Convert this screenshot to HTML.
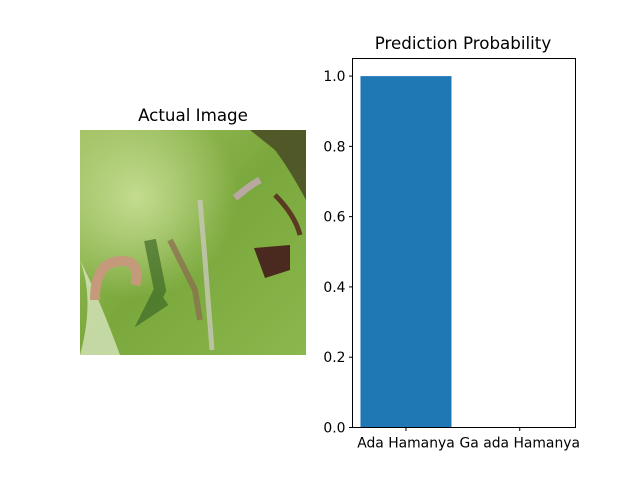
<!DOCTYPE html>
<html><head><style>
body{margin:0;background:#fff;}
svg text{font-family:"DejaVu Sans","Liberation Sans",sans-serif;}
</style></head><body>
<svg width="640" height="480" viewBox="0 0 640 480" xmlns="http://www.w3.org/2000/svg">
<defs>
<linearGradient id="lg" x1="0" y1="0" x2="1" y2="1">
<stop offset="0" stop-color="#a0c060"/><stop offset="0.5" stop-color="#7aa83c"/><stop offset="1" stop-color="#8ab84e"/>
</linearGradient>
<radialGradient id="rg" cx="0.25" cy="0.3" r="0.45"><stop offset="0" stop-color="#c4dc90"/><stop offset="1" stop-color="#c4dc90" stop-opacity="0"/></radialGradient>
</defs>
<text x="193" y="121" font-size="16.7" text-anchor="middle">Actual Image</text>
<g>
<rect x="80" y="130" width="226" height="225" fill="url(#lg)"/>
<rect x="80" y="130" width="226" height="225" fill="url(#rg)"/>
<path d="M80,260 Q95,300 80,355 L120,355 Q100,300 80,260Z" fill="#e4ecd0" opacity="0.7"/>
<path d="M250,130 L306,130 L306,200 Q290,170 275,150 Z" fill="#4a4a25" opacity="0.85"/>
<path d="M254,248 L290,245 L290,270 L265,278 Z" fill="#4a2a1e"/>
<path d="M275,195 Q295,215 300,235" stroke="#5a3a20" stroke-width="5" fill="none"/>
<path d="M95,300 Q95,255 130,262 Q140,270 135,285" stroke="#c49a7a" stroke-width="10" fill="none"/>
<path d="M235,198 Q250,185 260,180" stroke="#b8a8a0" stroke-width="7" fill="none"/>
<path d="M150,240 L160,290 L150,310 L165,300" stroke="#3f6a28" stroke-width="12" fill="none" opacity="0.7"/>
<path d="M200,200 L205,260 L212,350" stroke="#c8c8b8" stroke-width="5" fill="none" opacity="0.8"/>
<path d="M170,240 L195,290 L200,320" stroke="#8a6a50" stroke-width="6" fill="none" opacity="0.7"/>
</g>
<text x="463" y="49" font-size="16.7" text-anchor="middle">Prediction Probability</text>
<g id="plot"></g>
<rect x="352.5" y="58.5" width="223" height="369" fill="none" stroke="#000" stroke-width="1"/>
</svg>
<script>
const categories=["Ada Hamanya","Ga ada Hamanya"];
const values=[0.9999,0.0001];
const yTicks=[0,0.2,0.4,0.6,0.8,1.0];
const yTickLabels=["0.0","0.2","0.4","0.6","0.8","1.0"];
const L=352.5,R=575.5,T=58.5,B=427.5;
const xmin=-0.47,xmax=1.49,ymin=0,ymax=1.05;
const xs=v=>L+(v-xmin)/(xmax-xmin)*(R-L);
const ys=v=>B-(v-ymin)/(ymax-ymin)*(B-T);
const NS="http://www.w3.org/2000/svg";
const g=document.getElementById('plot');
function mk(t,a){const e=document.createElementNS(NS,t);for(const k in a)e.setAttribute(k,a[k]);g.appendChild(e);return e;}
values.forEach((v,i)=>{
 const r=mk('rect',{x:xs(i-0.4),y:ys(v),width:xs(i+0.4)-xs(i-0.4),height:ys(0)-ys(v),fill:'#1f77b4'});
 
 
 const tk=mk('line',{x1:xs(i),x2:xs(i),y1:B,y2:B+3.5,stroke:'#000'});
 
 
 const t=mk('text',{x:xs(i),y:B+20,'font-size':13.9,'text-anchor':'middle'});
 t.textContent=categories[i];
 
 
});
yTicks.forEach((v,i)=>{
 const tk=mk('line',{x1:L-3.5,x2:L,y1:ys(v),y2:ys(v),stroke:'#000'});
 
 
 const t=mk('text',{x:L-7,y:ys(v)+5,'font-size':13.9,'text-anchor':'end'});
 t.textContent=yTickLabels[i];
 
 
});
</script>
</body></html>
